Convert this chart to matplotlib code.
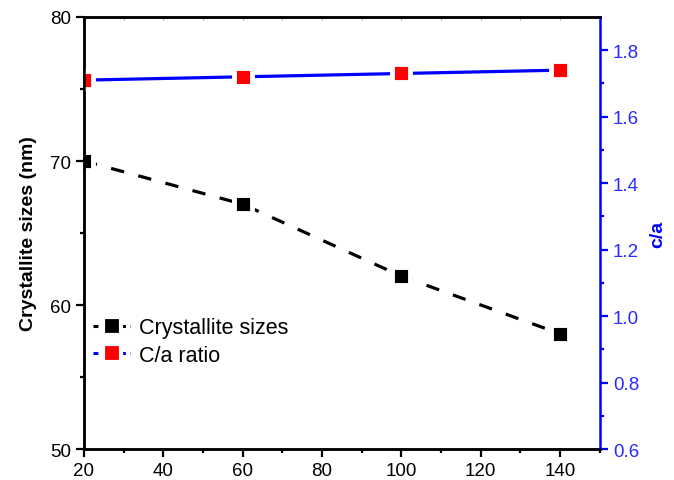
import matplotlib.pyplot as plt
from matplotlib.lines import Line2D

plt.rcParams['font.family'] = ['Liberation Sans', 'DejaVu Sans']

# data
temperature = [20, 60, 100, 140]
crystallite_size = [70, 67, 62, 58]
ca_ratio = [1.71, 1.72, 1.73, 1.74]

x_ticks = [20, 40, 60, 80, 100, 120, 140]
left_ticks = [50, 60, 70, 80]
right_ticks = [0.6, 0.8, 1.0, 1.2, 1.4, 1.6, 1.8]

blue = '#0000ff'
label_blue = '#2b2bff'

fig = plt.figure(figsize=(6.74, 4.81), dpi=100)
ax = fig.add_axes([0.1246, 0.0644, 0.7654, 0.8982])
ax2 = ax.twinx()

ax.plot(temperature, crystallite_size, color='black', linestyle=(0, (4.2, 4.6)),
        linewidth=2.3, marker='s', markersize=12.5, markerfacecolor='black',
        markeredgecolor='white', markeredgewidth=3.5)
ax2.plot(temperature, ca_ratio, color=blue, linewidth=2.3,
         marker='s', markersize=12.5, markerfacecolor='#ff0000',
         markeredgecolor='white', markeredgewidth=3.5)

ax.set_xlim(20, 150)
ax.set_ylim(50, 80)
ax2.set_ylim(0.6, 1.9)

ax.set_xticks(x_ticks)
ax.set_xticks([30, 50, 70, 90, 110, 130, 150], minor=True)
ax.set_yticks(left_ticks)
ax.set_yticks([55, 65, 75], minor=True)
ax2.set_yticks(right_ticks)
ax2.set_yticklabels([f'{v:.1f}' for v in right_ticks])
ax2.set_yticks([0.7, 0.9, 1.1, 1.3, 1.5, 1.7], minor=True)

ax.tick_params(axis='both', which='major', direction='out', length=5.5, width=1.6,
               labelsize=13.5, pad=4)
ax.tick_params(axis='both', which='minor', direction='out', length=3, width=1.6)
ax2.tick_params(axis='y', which='major', direction='out', length=5.5, width=1.6,
                colors=blue, labelcolor=label_blue, labelsize=13.5, pad=4)
ax2.tick_params(axis='y', which='minor', direction='out', length=3, width=1.6,
                colors=blue)

# faint inward ticks along the top edge
top = ax.secondary_xaxis('top')
top.set_xticks(list(range(20, 151, 10)))
top.tick_params(direction='in', length=2, width=0.8, color='#b0b0b0', labeltop=False)
top.spines['top'].set_visible(False)

for side in ['left', 'bottom', 'top']:
    ax.spines[side].set_linewidth(1.8)
    ax2.spines[side].set_linewidth(1.8)
ax.spines['right'].set_visible(False)
ax2.spines['right'].set_color(blue)
ax2.spines['right'].set_linewidth(1.8)

ax.set_ylabel('Crystallite sizes (nm)', fontsize=14, fontweight='bold', labelpad=9)
ax2.set_ylabel('c/a', fontsize=14, fontweight='bold', color=blue, labelpad=7)

handles = [
    Line2D([], [], color='black', linestyle=(0, (1.6, 1.4)), linewidth=2.2, marker='s',
           markersize=12.5, markerfacecolor='black', markeredgecolor='white',
           markeredgewidth=3),
    Line2D([], [], color=blue, linestyle=(0, (1.6, 1.4)), linewidth=2.2, marker='s',
           markersize=12.5, markerfacecolor='#ff0000', markeredgecolor='white',
           markeredgewidth=3),
]
ax2.legend(handles, ['Crystallite sizes', 'C/a ratio'], loc='upper left',
           bbox_to_anchor=(-0.015, 0.345), frameon=False, fontsize=15.5,
           handlelength=1.7, handletextpad=0.4, labelspacing=0.3,
           borderaxespad=0.4)

fig.savefig('out.png', dpi=100)
